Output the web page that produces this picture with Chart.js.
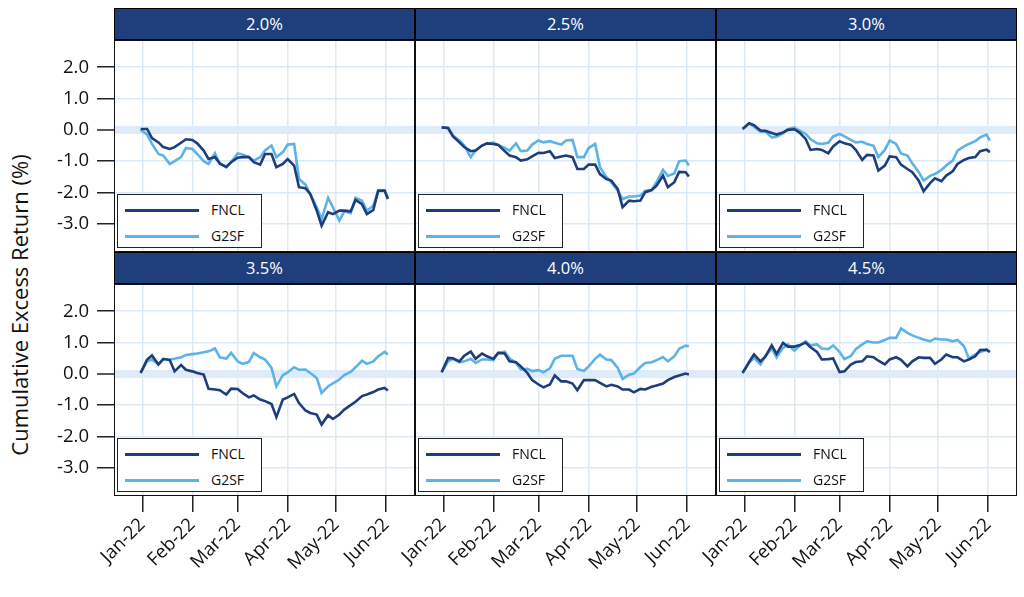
<!DOCTYPE html>
<html>
<head>
<meta charset="utf-8">
<script src="https://cdn.jsdelivr.net/npm/chart.js@4.4.1/dist/chart.umd.min.js"></script>
<style>
  html, body { margin: 0; padding: 0; background: #fff; }
  body { width: 1024px; height: 597px; position: relative; overflow: hidden; font-family: "Open Sans", sans-serif; }
  .hd { position: absolute; box-sizing: border-box; background: #1e3f7c; border: 1.5px solid #000;
        color: #fff; font-size: 16.5px; text-align: center; line-height: 29px; }
  .frame { position: absolute; box-sizing: border-box; border: 1.5px solid #111; pointer-events: none; z-index: 3; }
  .lg { position: absolute; box-sizing: border-box; background: #fff; border: 1px solid #222; z-index: 4; }
  .lg .row { position: absolute; left: 0; height: 20px; width: 100%; }
  .lg .sw { position: absolute; left: 7px; top: 9px; width: 74px; height: 3px; }
  .lg .tx { position: absolute; left: 93px; top: 0; font-size: 14px; line-height: 20px; color: #111; }
  .ytitle { position: absolute; left: 19px; top: 305px; transform: translate(-50%, -50%) rotate(-90deg);
            white-space: nowrap; font-size: 22px; color: #111; }
  canvas { position: absolute; }
</style>
</head>
<body>
<div class="ytitle">Cumulative Excess Return (%)</div>
<script>
(function () {
    // ------- Data -------
    // days from 1 Jan 2022
    const days = [-1, 3, 6, 10, 13, 17, 20, 24, 27, 31, 34, 38, 41, 45, 48, 52, 55, 59, 62, 66, 69, 73, 76,
        80, 83, 87, 90, 94, 97, 101, 104, 108, 111, 115, 118, 122, 125, 129, 132, 136, 139, 143, 146, 150, 152];
    const monthTicks = [0, 31, 59, 90, 120, 151];
    const monthLabels = ['Jan-22', 'Feb-22', 'Mar-22', 'Apr-22', 'May-22', 'Jun-22'];
    const yTicks = [-3, -2, -1, 0, 1, 2];
    const coupons = ['2.0%', '2.5%', '3.0%', '3.5%', '4.0%', '4.5%'];
    const seriesNames = ['FNCL', 'G2SF'];

    const fncl20 = [0.03, 0.03, -0.26, -0.40, -0.55, -0.61, -0.55, -0.41, -0.30, -0.32, -0.43, -0.66, -0.93, -0.87, -1.07,
        -1.19, -1.03, -0.89, -0.87, -0.87, -1.03, -1.11, -0.77, -0.77, -1.19, -1.09, -0.93, -1.14, -1.83, -1.86,
        -2.05, -2.58, -3.06, -2.63, -2.69, -2.58, -2.58, -2.60, -2.24, -2.37, -2.69, -2.56, -1.94, -1.94, -2.21];
    const g2sf20 = [0.0, -0.15, -0.45, -0.77, -0.82, -1.09, -1.0, -0.87, -0.58, -0.61, -0.77, -1.0, -1.09, -0.75, -1.09,
        -1.17, -1.03, -0.75, -0.79, -0.87, -0.98, -0.87, -0.66, -0.50, -0.87, -0.71, -0.47, -0.45, -1.57, -1.75,
        -2.05, -2.47, -2.85, -2.17, -2.47, -2.90, -2.60, -2.66, -2.17, -2.26, -2.58, -2.42, -1.96, -1.94, -2.17];
    const fncl25 = [0.08, 0.06, -0.21, -0.40, -0.55, -0.68, -0.66, -0.50, -0.43, -0.45, -0.48, -0.68, -0.82, -0.87, -0.98,
        -0.94, -0.85, -0.73, -0.74, -0.68, -0.90, -0.85, -0.82, -0.87, -1.25, -1.25, -1.11, -1.11, -1.41, -1.57,
        -1.62, -1.89, -2.47, -2.26, -2.28, -2.26, -1.99, -1.92, -1.78, -1.46, -1.83, -1.67, -1.34, -1.35, -1.49];
    const g2sf25 = [0.08, 0.06, -0.18, -0.34, -0.50, -0.87, -0.66, -0.50, -0.44, -0.41, -0.48, -0.58, -0.66, -0.43, -0.68,
        -0.66, -0.47, -0.34, -0.40, -0.36, -0.41, -0.47, -0.34, -0.32, -0.87, -0.87, -0.58, -0.45, -1.19, -1.51,
        -1.67, -1.94, -2.21, -2.13, -2.13, -2.10, -1.94, -1.92, -1.67, -1.28, -1.47, -1.39, -1.0, -0.98, -1.14];
    const fncl30 = [0.03, 0.21, 0.15, -0.02, -0.03, -0.10, -0.15, -0.08, 0.0, 0.02, -0.08, -0.29, -0.64, -0.61, -0.64,
        -0.75, -0.53, -0.36, -0.43, -0.48, -0.64, -0.96, -0.80, -0.82, -1.30, -1.14, -0.85, -0.87, -1.11, -1.25,
        -1.35, -1.62, -1.96, -1.70, -1.55, -1.64, -1.46, -1.32, -1.09, -0.96, -0.90, -0.87, -0.68, -0.63, -0.71];
    const g2sf30 = [0.03, 0.21, 0.11, -0.06, -0.05, -0.24, -0.22, -0.11, 0.02, 0.08, -0.02, -0.13, -0.29, -0.43, -0.45,
        -0.41, -0.21, -0.13, -0.21, -0.32, -0.40, -0.38, -0.45, -0.51, -0.87, -0.64, -0.34, -0.45, -0.75, -0.82,
        -1.07, -1.35, -1.62, -1.47, -1.41, -1.28, -1.14, -0.98, -0.66, -0.53, -0.45, -0.36, -0.24, -0.15, -0.34];
    const fncl35 = [0.03, 0.46, 0.59, 0.30, 0.48, 0.44, 0.08, 0.28, 0.13, 0.08, 0.03, -0.02, -0.48, -0.50, -0.52,
        -0.66, -0.47, -0.48, -0.61, -0.75, -0.69, -0.82, -0.87, -0.96, -1.38, -0.82, -0.75, -0.64, -0.93, -1.17,
        -1.25, -1.30, -1.62, -1.32, -1.44, -1.30, -1.14, -1.0, -0.89, -0.71, -0.66, -0.58, -0.50, -0.45, -0.53];
    const g2sf35 = [0.03, 0.40, 0.46, 0.30, 0.46, 0.46, 0.48, 0.53, 0.60, 0.63, 0.65, 0.69, 0.72, 0.81, 0.53,
        0.49, 0.67, 0.40, 0.32, 0.38, 0.66, 0.53, 0.46, 0.19, -0.40, -0.04, 0.05, 0.21, 0.13, 0.14,
        0.03, -0.13, -0.61, -0.40, -0.30, -0.18, -0.04, 0.06, 0.21, 0.42, 0.32, 0.40, 0.56, 0.70, 0.62];
    const fncl40 = [0.05, 0.51, 0.50, 0.40, 0.58, 0.71, 0.48, 0.65, 0.56, 0.48, 0.67, 0.65, 0.40, 0.37, 0.24,
        0.03, -0.20, -0.34, -0.43, -0.34, -0.05, -0.24, -0.24, -0.31, -0.52, -0.20, -0.20, -0.20, -0.29, -0.40,
        -0.35, -0.40, -0.50, -0.50, -0.59, -0.48, -0.50, -0.41, -0.37, -0.31, -0.20, -0.10, -0.05, 0.01, -0.02];
    const g2sf40 = [0.05, 0.40, 0.48, 0.37, 0.40, 0.48, 0.35, 0.46, 0.46, 0.44, 0.67, 0.71, 0.50, 0.35, 0.14,
        0.16, 0.09, 0.12, 0.05, 0.18, 0.48, 0.58, 0.58, 0.58, 0.16, 0.09, 0.24, 0.48, 0.61, 0.46,
        0.44, 0.19, -0.16, -0.03, 0.01, 0.22, 0.35, 0.37, 0.44, 0.54, 0.40, 0.56, 0.80, 0.90, 0.88];
    const fncl45 = [0.03, 0.38, 0.62, 0.40, 0.55, 0.91, 0.64, 0.99, 0.87, 0.87, 0.91, 1.0, 0.85, 0.70, 0.46,
        0.47, 0.49, 0.06, 0.08, 0.30, 0.38, 0.40, 0.56, 0.53, 0.42, 0.30, 0.46, 0.53, 0.45, 0.24,
        0.40, 0.53, 0.51, 0.51, 0.32, 0.46, 0.62, 0.53, 0.53, 0.40, 0.46, 0.56, 0.76, 0.77, 0.70];
    const g2sf45 = [0.03, 0.35, 0.51, 0.30, 0.56, 0.81, 0.53, 0.83, 0.94, 0.74, 0.88, 1.04, 0.91, 0.94, 0.81,
        0.79, 0.91, 0.70, 0.47, 0.57, 0.79, 0.94, 1.04, 1.0, 1.0, 1.08, 1.15, 1.15, 1.45, 1.31,
        1.23, 1.15, 1.10, 1.04, 1.13, 1.10, 1.10, 1.04, 1.08, 0.88, 0.49, 0.62, 0.70, 0.78, 0.70];

    const fnclByPanel = [fncl20, fncl25, fncl30, fncl35, fncl40, fncl45];
    const g2sfByPanel = [g2sf20, g2sf25, g2sf30, g2sf35, g2sf40, g2sf45];

    // ------- Layout / style -------
    const COLORS = ['#1f3d7a', '#5cb3e6'];
    const GRID = '#dce9f6';
    const BAND = '#dfebf8';
    const PANEL_W = 301, PLOT_H = 212, HEAD_H = 32, AXIS_W = 114, AXIS_H = 101;
    const colLeft = [114, 415, 716];
    const rowTop = [8, 252];
    const X_MIN = -17.5, X_MAX = 168.8;
    const Y_MIN = -3.9, Y_MAX = 2.87;
    const tickFont = { family: 'Open Sans', size: 18.5 };

    function el(tag, cls, css) {
        const e = document.createElement(tag);
        if (cls) e.className = cls;
        Object.assign(e.style, css || {});
        document.body.appendChild(e);
        return e;
    }

    function legendBox(left, top) {
        const box = el('div', 'lg', { left: left + 'px', top: top + 'px', width: '145px', height: '54px' });
        box.innerHTML = seriesNames.map((n, i) =>
            `<div class="row" style="top:${5 + i * 26}px"><span class="sw" style="background:${COLORS[i]}"></span><span class="tx">${n}</span></div>`
        ).join('');
    }

    function makePanel(idx) {
        const r = Math.floor(idx / 3), c = idx % 3;
        const isLeft = c === 0, isBottom = r === 1;
        const plotTop = rowTop[r] + HEAD_H;

        const hd = el('div', 'hd', { left: colLeft[c] + 'px', top: rowTop[r] + 'px', width: PANEL_W + 'px', height: HEAD_H + 'px' });
        hd.textContent = coupons[idx];
        el('div', 'frame', { left: colLeft[c] + 'px', top: plotTop + 'px', width: PANEL_W + 'px', height: PLOT_H + 'px' });
        legendBox(colLeft[c] + 3, plotTop + PLOT_H - 58);

        // every canvas keeps room on the left so rotated x labels are not clipped
        const cw = PANEL_W + AXIS_W;
        const chh = PLOT_H + (isBottom ? AXIS_H : 0);
        const canvas = el('canvas', null, { left: (colLeft[c] - AXIS_W) + 'px', top: plotTop + 'px', width: cw + 'px', height: chh + 'px' });
        canvas.width = cw;
        canvas.height = chh;

        const series = [fnclByPanel[idx], g2sfByPanel[idx]];
        return new Chart(canvas.getContext('2d'), {
            type: 'line',
            data: {
                datasets: series.map((vals, i) => ({
                    label: seriesNames[i],
                    data: days.map((d, k) => ({ x: d, y: vals[k] })),
                    borderColor: COLORS[i],
                    borderWidth: 2.6,
                    pointRadius: 0,
                    tension: 0
                }))
            },
            options: {
                responsive: false,
                animation: false,
                layout: { padding: 0 },
                plugins: { legend: { display: false }, tooltip: { enabled: false } },
                scales: {
                    x: {
                        type: 'linear', min: X_MIN, max: X_MAX,
                        afterBuildTicks: s => { s.ticks = monthTicks.map(v => ({ value: v })); },
                        afterFit: s => { s.height = isBottom ? AXIS_H : 0; s.paddingLeft = 0; s.paddingRight = 0; },
                        border: { display: false },
                        grid: { color: GRID, lineWidth: 1.5, drawTicks: isBottom, tickLength: 16, tickColor: '#222', tickWidth: 1.5 },
                        ticks: {
                            display: isBottom, autoSkip: false, maxRotation: 45, minRotation: 45, padding: 2,
                            color: '#111', font: tickFont,
                            callback: v => monthLabels[monthTicks.indexOf(v)]
                        }
                    },
                    y: {
                        min: Y_MIN, max: Y_MAX,
                        afterBuildTicks: s => { s.ticks = yTicks.map(v => ({ value: v })); },
                        afterFit: s => { s.width = AXIS_W; s.paddingTop = 0; s.paddingBottom = 0; },
                        border: { display: false },
                        grid: {
                            color: ctx => (ctx.tick && ctx.tick.value === 0) ? BAND : GRID,
                            lineWidth: ctx => (ctx.tick && ctx.tick.value === 0) ? 8 : 1.5,
                            drawTicks: isLeft, tickLength: 17, tickColor: '#222', tickWidth: 1.5
                        },
                        ticks: { display: isLeft, padding: 8, color: '#111', font: tickFont, callback: v => Number(v).toFixed(1) }
                    }
                }
            }
        });
    }

    coupons.forEach((_, i) => makePanel(i));
})();
</script>
</body>
</html>
